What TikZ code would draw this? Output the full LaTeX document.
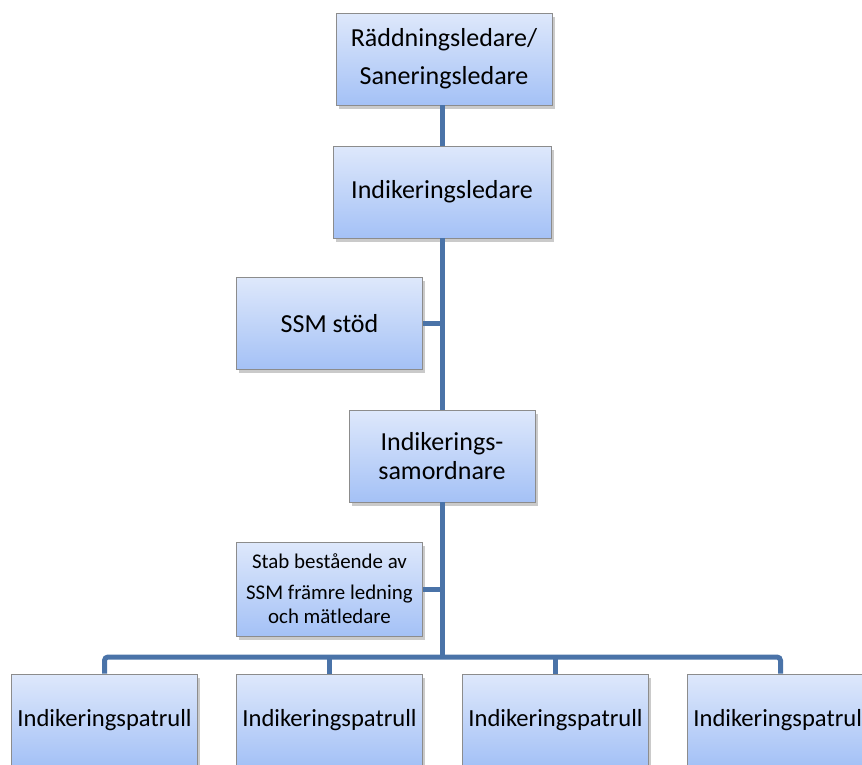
\documentclass[tikz,border=0pt]{standalone}
\usepackage{fontspec}
\setmainfont{Carlito}
\usetikzlibrary{shadows}
\definecolor{orgline}{HTML}{4A73A8}
\definecolor{boxtop}{HTML}{DEE8FB}
\definecolor{boxbot}{HTML}{A4C1F6}
\newcommand{\mainsize}{\fontsize{14.8pt}{17pt}\selectfont}
\newcommand{\patsize}{\fontsize{14pt}{17pt}\selectfont}
\newcommand{\stabsize}{\fontsize{11.9pt}{13.6pt}\selectfont}
\tikzset{
  orgbox/.style={draw=black!45, top color=boxtop, bottom color=boxbot,
    minimum width=3.72cm, minimum height=1.84cm, inner sep=0pt, align=center,
    font=\mainsize,
    drop shadow={shadow xshift=1.5pt, shadow yshift=-2pt, opacity=.35, fill=black!60}},
  orgline/.style={draw=orgline, line width=0.1cm}
}
\begin{document}
\begin{tikzpicture}[x=0.02cm,y=-0.02cm]
        \useasboundingbox (0,0) rectangle (862,764);
        \node[orgbox, minimum width=4.32cm] (rl) at (444,59) {Räddningsledare/\\[4.6pt]Saneringsledare};
        \node[orgbox, minimum width=4.36cm] (il) at (442,192) {Indikeringsledare};
        \node[orgbox] (ssm) at (329.5,323.5) {SSM stöd};
        \node[orgbox] (samord) at (442,456) {Indikerings-\\samordnare};
        \node[orgbox, font=\stabsize, minimum height=1.88cm] (stab) at (329.5,589) {Stab bestående av\\[4pt]SSM främre ledning\\och mätledare};
        \foreach \x [count=\i] in {104.5,329.5,555.5,780.5}
          \node[orgbox, font=\patsize] (p\i) at (\x,720) {Indikeringspatrull};
        \coordinate (bus) at (442,657);
        \draw[orgline] (il.north |- rl.south) -- (il.north);
        \draw[orgline] (il.south) -- (samord.north);
        \draw[orgline] (ssm.east) -- (ssm.east -| il.south);
        \draw[orgline] (samord.south) -- (bus);
        \draw[orgline] (stab.east) -- (stab.east -| bus);
        \draw[orgline, rounded corners=2pt] (p1.north) |- (bus) -| (p4.north);
        \draw[orgline] (p2.north) -- (p2.north |- bus);
        \draw[orgline] (p3.north) -- (p3.north |- bus);
\end{tikzpicture}
\end{document}
